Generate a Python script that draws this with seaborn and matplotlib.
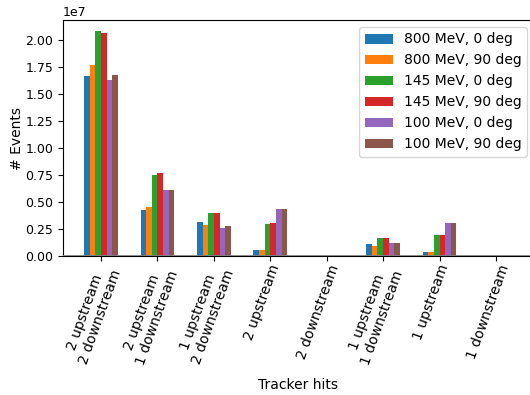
import matplotlib
matplotlib.use("Agg")
import matplotlib.pyplot as plt
from matplotlib.ticker import MultipleLocator
from matplotlib.transforms import ScaledTranslation
import seaborn as sns
import pandas as pd

# Tracker-hit categories along the x axis
categories = [
    "2 upstream\n2 downstream",
    "2 upstream\n1 downstream",
    "1 upstream\n2 downstream",
    "2 upstream",
    "2 downstream",
    "1 upstream\n1 downstream",
    "1 upstream",
    "1 downstream",
]

# Beam configurations (one bar per configuration in each group)
series_names = [
    "800 MeV, 0 deg",
    "800 MeV, 90 deg",
    "145 MeV, 0 deg",
    "145 MeV, 90 deg",
    "100 MeV, 0 deg",
    "100 MeV, 90 deg",
]

# Event counts per configuration, in category order
ev_800_0 = [1.664e7, 0.423e7, 0.312e7, 0.055e7, 0.002e7, 0.108e7, 0.034e7, 0.002e7]
ev_800_90 = [1.765e7, 0.451e7, 0.290e7, 0.053e7, 0.002e7, 0.096e7, 0.034e7, 0.002e7]
ev_145_0 = [2.080e7, 0.747e7, 0.395e7, 0.293e7, 0.002e7, 0.164e7, 0.191e7, 0.002e7]
ev_145_90 = [2.062e7, 0.769e7, 0.395e7, 0.302e7, 0.002e7, 0.164e7, 0.191e7, 0.002e7]
ev_100_0 = [1.626e7, 0.608e7, 0.262e7, 0.432e7, 0.002e7, 0.117e7, 0.302e7, 0.002e7]
ev_100_90 = [1.673e7, 0.608e7, 0.275e7, 0.432e7, 0.002e7, 0.117e7, 0.302e7, 0.002e7]

all_series = [ev_800_0, ev_800_90, ev_145_0, ev_145_90, ev_100_0, ev_100_90]

rows = []
for name, vals in zip(series_names, all_series):
    for cat, v in zip(categories, vals):
        rows.append({"Tracker hits": cat, "config": name, "events": v})
df = pd.DataFrame(rows)

colors = ["#1f77b4", "#ff7f0e", "#2ca02c", "#d62728", "#9467bd", "#8c564b"]

fig = plt.figure(figsize=(5.30, 3.95), dpi=100)
ax = fig.add_axes([63 / 530, 1 - 256 / 395, (534 - 63) / 530, (256 - 20) / 395])

sns.barplot(
    data=df, x="Tracker hits", y="events", hue="config",
    order=categories, hue_order=series_names, palette=colors,
    saturation=1, width=0.6, errorbar=None, ax=ax,
)

ax.axhline(0, color="#808080", lw=2, zorder=3)
ax.set_xlim(-0.675, len(categories) - 1 + 0.675)
ax.set_ylim(0, 2.184e7)
ax.yaxis.set_major_locator(MultipleLocator(0.25e7))
ax.ticklabel_format(axis="y", style="sci", scilimits=(0, 0), useMathText=False)
ax.yaxis.get_offset_text().set_fontsize(9)
ax.tick_params(axis="y", labelsize=9)
ax.tick_params(axis="x", labelsize=10)

shift = ScaledTranslation(-8 / 100, 3 / 100, fig.dpi_scale_trans)
for lbl in ax.get_xticklabels():
    lbl.set_rotation(70)
    lbl.set_ha("center")
    lbl.set_transform(lbl.get_transform() + shift)

ax.set_xlabel("Tracker hits", fontsize=10, labelpad=8)
ax.set_ylabel("# Events", fontsize=10, labelpad=1)

ax.legend(loc="upper right", fontsize=10, title=None)

fig.savefig("out.png", dpi=100)
